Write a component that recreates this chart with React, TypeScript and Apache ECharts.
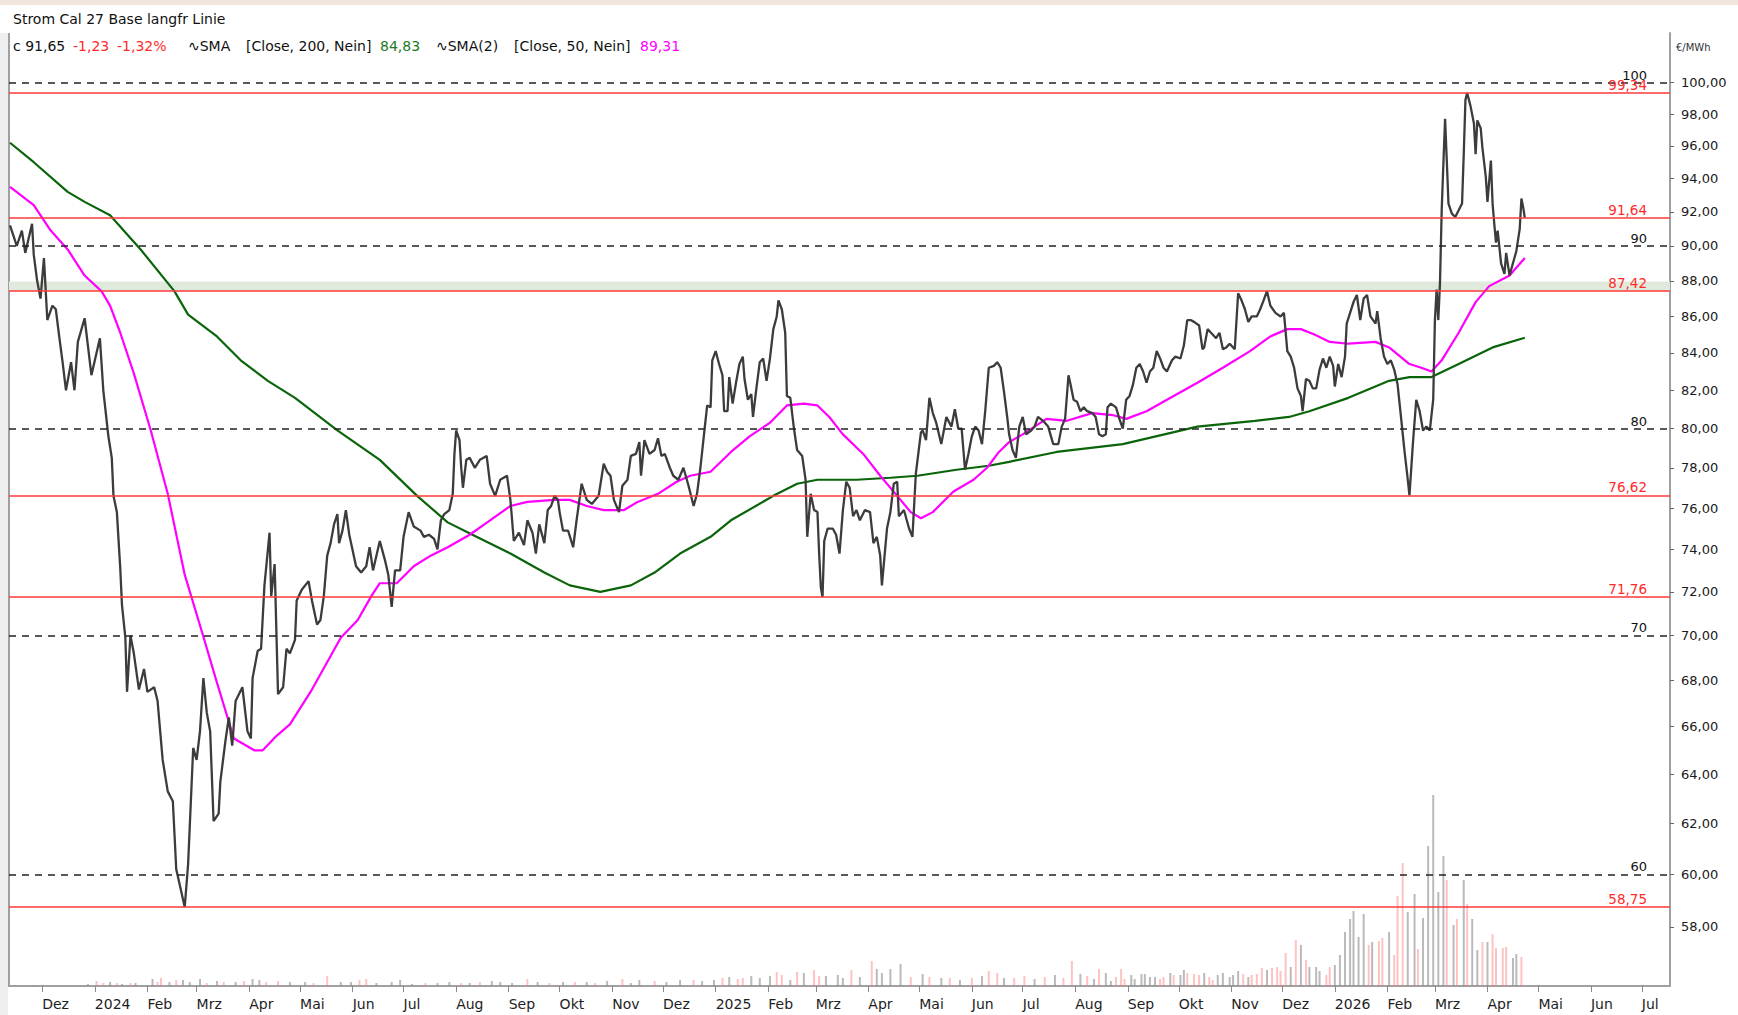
import React, { useEffect, useRef } from 'react';
import * as echarts from 'echarts';

const FONT = '"DejaVu Sans", Verdana, sans-serif';

// Close prices (€/MWh)
const closePrices: [string, number][] = [
["2023-11-12",91.2],["2023-11-14",90.6],["2023-11-16",90.0],["2023-11-19",90.9],["2023-11-21",89.6],["2023-11-25",91.3],["2023-11-26",89.5],["2023-11-28",88.0],["2023-11-30",87.0],["2023-12-02",89.3],["2023-12-04",85.8],["2023-12-07",86.6],["2023-12-09",86.4],["2023-12-11",84.9],["2023-12-13",83.5],["2023-12-15",82.0],["2023-12-18",83.5],["2023-12-20",82.0],["2023-12-22",84.6],["2023-12-26",85.9],["2023-12-30",82.8],
["2024-01-02",84.0],["2024-01-04",84.8],["2024-01-06",82.0],["2024-01-09",79.6],["2024-01-11",78.5],["2024-01-12",76.6],["2024-01-14",75.8],["2024-01-16",73.1],["2024-01-17",71.4],["2024-01-19",69.9],["2024-01-20",67.5],["2024-01-22",70.0],["2024-01-24",69.2],["2024-01-27",67.6],["2024-01-30",68.5],["2024-02-01",67.5],["2024-02-05",67.7],["2024-02-07",67.1],["2024-02-10",64.6],["2024-02-13",63.3],["2024-02-16",62.9],["2024-02-18",60.2],["2024-02-23",58.75],["2024-02-25",60.4],["2024-02-27",63.5],["2024-02-28",65.1],["2024-03-01",64.6],["2024-03-03",65.8],["2024-03-05",68.1],["2024-03-07",66.6],["2024-03-09",65.8],["2024-03-11",62.1],["2024-03-14",62.4],["2024-03-15",63.7],["2024-03-18",65.4],["2024-03-20",66.4],["2024-03-22",65.2],["2024-03-24",67.1],["2024-03-28",67.7],["2024-03-31",65.8],["2024-04-02",65.5],["2024-04-03",68.1],["2024-04-06",69.3],["2024-04-08",69.4],["2024-04-10",72.3],["2024-04-13",74.8],["2024-04-14",71.8],["2024-04-16",73.3],["2024-04-18",67.4],["2024-04-21",67.7],["2024-04-23",69.4],["2024-04-25",69.2],
["2024-04-28",69.8],["2024-04-29",71.6],["2024-05-02",72.1],["2024-05-06",72.5],["2024-05-08",71.6],["2024-05-11",70.5],["2024-05-13",70.7],["2024-05-15",71.8],["2024-05-17",73.7],["2024-05-19",74.3],["2024-05-21",75.2],["2024-05-23",75.7],["2024-05-24",74.3],["2024-05-26",74.9],["2024-05-28",75.9],["2024-05-30",74.7],["2024-06-03",73.2],["2024-06-06",72.9],["2024-06-09",73.2],["2024-06-11",74.1],["2024-06-13",73.0],["2024-06-15",73.7],["2024-06-17",74.4],["2024-06-20",73.5],["2024-06-22",72.8],["2024-06-24",71.3],["2024-06-26",73.0],["2024-06-29",73.0],["2024-07-01",74.6],["2024-07-04",75.8],["2024-07-07",75.1],["2024-07-11",74.9],["2024-07-13",74.6],["2024-07-16",74.7],["2024-07-19",74.5],["2024-07-21",74.0],["2024-07-23",75.4],["2024-07-25",75.7],["2024-07-28",75.9],["2024-07-30",76.7],["2024-07-31",78.7],["2024-08-01",79.9],["2024-08-03",79.4],["2024-08-04",78.0],["2024-08-05",77.0],["2024-08-07",78.4],["2024-08-09",78.5],["2024-08-12",78.0],["2024-08-15",78.4],["2024-08-19",78.6],["2024-08-21",77.2],["2024-08-24",76.6],["2024-08-27",77.4],["2024-08-31",77.6],["2024-09-02",76.4],["2024-09-04",74.4],["2024-09-07",74.8],["2024-09-10",74.2],["2024-09-12",75.4],["2024-09-15",74.8],["2024-09-17",73.8],["2024-09-19",75.2],["2024-09-22",74.3],["2024-09-24",75.9],["2024-09-26",76.1],["2024-09-28",76.6],["2024-09-30",76.4],["2024-10-01",75.8],["2024-10-03",74.9],["2024-10-06",74.9],["2024-10-09",74.1],["2024-10-11",75.4],["2024-10-14",77.2],["2024-10-17",76.4],["2024-10-20",76.2],["2024-10-24",76.6],["2024-10-27",78.2],["2024-10-29",77.8],["2024-10-31",77.6],["2024-11-02",76.4],["2024-11-05",75.8],["2024-11-07",77.1],["2024-11-10",77.4],["2024-11-12",78.6],["2024-11-15",78.7],["2024-11-17",79.3],["2024-11-18",77.6],["2024-11-20",79.4],["2024-11-23",78.7],["2024-11-26",78.9],["2024-11-28",79.5],["2024-11-30",78.6],["2024-12-02",78.7],["2024-12-05",78.0],["2024-12-07",77.6],["2024-12-10",77.4],["2024-12-13",78.0],["2024-12-16",77.1],["2024-12-19",76.1],["2024-12-21",76.7],["2024-12-23",78.0],["2024-12-25",79.6],["2024-12-27",81.2],["2024-12-29",81.1],["2024-12-30",83.6],
["2025-01-01",84.1],["2025-01-03",83.4],["2025-01-05",82.8],["2025-01-06",80.9],["2025-01-08",80.9],["2025-01-09",82.7],["2025-01-11",81.3],["2025-01-13",82.4],["2025-01-15",83.4],["2025-01-17",83.8],["2025-01-18",82.6],["2025-01-20",81.5],["2025-01-22",81.8],["2025-01-23",80.6],["2025-01-25",82.1],["2025-01-27",83.5],["2025-01-29",83.7],["2025-01-31",82.5],["2025-02-02",83.7],["2025-02-04",85.3],["2025-02-06",86.0],["2025-02-07",86.9],["2025-02-09",86.4],["2025-02-11",85.1],["2025-02-12",81.7],["2025-02-14",81.6],["2025-02-16",80.1],["2025-02-18",78.9],["2025-02-21",78.6],["2025-02-23",77.4],["2025-02-24",74.6],["2025-02-26",76.7],["2025-02-28",75.9],["2025-03-02",75.8],["2025-03-03",73.8],["2025-03-04",72.2],["2025-03-05",71.76],["2025-03-06",74.4],["2025-03-08",75.0],["2025-03-11",75.0],["2025-03-13",74.7],["2025-03-15",73.8],["2025-03-17",75.9],["2025-03-19",77.3],["2025-03-21",77.0],["2025-03-23",75.6],["2025-03-25",75.9],["2025-03-27",75.4],["2025-03-30",75.9],["2025-04-02",75.8],["2025-04-04",74.3],["2025-04-06",74.6],["2025-04-08",73.7],["2025-04-09",72.3],["2025-04-12",75.0],["2025-04-14",75.8],["2025-04-16",77.2],["2025-04-18",77.3],["2025-04-19",75.6],["2025-04-22",75.9],["2025-04-25",75.0],["2025-04-27",74.6],["2025-04-29",77.7],["2025-05-02",79.8],["2025-05-03",79.9],["2025-05-05",79.4],["2025-05-07",81.6],["2025-05-09",80.8],["2025-05-11",80.3],["2025-05-14",79.2],["2025-05-17",80.6],["2025-05-20",80.1],["2025-05-22",81.0],["2025-05-24",80.0],["2025-05-26",80.0],["2025-05-28",77.9],["2025-05-30",78.7],["2025-06-01",79.6],["2025-06-03",80.1],["2025-06-05",79.9],["2025-06-07",79.2],["2025-06-09",81.0],["2025-06-11",83.2],["2025-06-14",83.3],["2025-06-16",83.5],["2025-06-18",83.2],["2025-06-20",81.9],["2025-06-22",80.5],
["2025-06-23",79.7],["2025-06-25",78.9],["2025-06-27",78.5],["2025-06-29",80.1],["2025-07-01",80.6],["2025-07-03",79.7],["2025-07-06",79.9],["2025-07-08",80.1],["2025-07-10",80.6],["2025-07-13",80.4],["2025-07-16",80.1],["2025-07-19",79.2],["2025-07-22",79.2],["2025-07-24",80.1],["2025-07-26",80.5],["2025-07-28",82.8],["2025-07-29",82.4],["2025-07-31",81.5],["2025-08-02",81.4],["2025-08-04",80.9],["2025-08-06",81.1],["2025-08-08",80.9],["2025-08-11",80.8],["2025-08-13",80.6],["2025-08-15",79.7],["2025-08-17",79.6],["2025-08-19",79.7],["2025-08-20",81.1],["2025-08-22",81.3],["2025-08-25",81.1],["2025-08-27",80.5],["2025-08-29",80.0],["2025-08-31",81.5],["2025-09-02",81.7],["2025-09-04",82.3],["2025-09-06",83.2],["2025-09-08",83.4],["2025-09-10",83.0],["2025-09-12",82.4],["2025-09-14",83.0],["2025-09-16",83.2],["2025-09-18",84.1],["2025-09-20",83.7],["2025-09-22",83.2],["2025-09-24",83.0],["2025-09-27",83.6],["2025-09-29",83.8],["2025-10-02",83.7],["2025-10-04",84.4],["2025-10-06",85.8],["2025-10-08",85.8],["2025-10-10",85.7],["2025-10-13",85.5],["2025-10-15",84.2],["2025-10-16",84.3],["2025-10-18",85.3],["2025-10-20",85.1],["2025-10-23",84.8],["2025-10-25",85.1],["2025-10-27",84.2],["2025-10-29",84.3],["2025-10-31",84.5],["2025-11-03",84.2],["2025-11-05",87.3],["2025-11-07",86.9],["2025-11-09",86.4],["2025-11-11",85.7],["2025-11-13",86.0],["2025-11-16",86.0],["2025-11-18",86.4],["2025-11-20",86.9],["2025-11-22",87.42],["2025-11-24",86.6],["2025-11-27",86.2],["2025-11-30",86.0],["2025-12-02",86.2],["2025-12-04",84.1],["2025-12-06",83.8],["2025-12-08",83.2],["2025-12-10",82.1],["2025-12-12",81.7],["2025-12-13",80.9],["2025-12-15",82.6],["2025-12-17",82.5],["2025-12-19",82.1],["2025-12-21",82.1],["2025-12-23",83.1],["2025-12-25",83.7],["2025-12-27",83.2],["2025-12-29",83.8],["2025-12-31",83.3],
["2026-01-01",82.2],["2026-01-03",83.4],["2026-01-05",82.7],["2026-01-07",83.8],["2026-01-08",85.6],["2026-01-10",86.2],["2026-01-12",86.8],["2026-01-14",87.2],["2026-01-16",85.8],["2026-01-18",87.0],["2026-01-20",87.2],["2026-01-22",86.0],["2026-01-25",85.6],["2026-01-26",86.3],["2026-01-28",84.8],["2026-01-30",83.8],["2026-02-01",83.4],["2026-02-03",83.6],["2026-02-05",83.1],["2026-02-07",82.3],["2026-02-09",80.6],["2026-02-11",78.9],["2026-02-13",77.4],["2026-02-14",76.62],["2026-02-16",79.2],["2026-02-18",81.5],["2026-02-20",80.9],["2026-02-22",79.9],["2026-02-24",80.1],["2026-02-26",79.9],["2026-02-28",81.5],["2026-03-01",85.8],["2026-03-02",87.5],["2026-03-03",85.8],["2026-03-04",87.9],["2026-03-05",92.1],["2026-03-06",94.9],["2026-03-07",97.7],["2026-03-08",95.1],["2026-03-09",92.5],["2026-03-11",91.9],["2026-03-13",91.7],["2026-03-15",92.1],["2026-03-17",92.5],["2026-03-18",95.5],["2026-03-19",98.9],["2026-03-20",99.34],["2026-03-22",98.5],["2026-03-24",97.4],["2026-03-25",95.5],["2026-03-26",97.6],["2026-03-28",97.1],["2026-03-29",95.9],["2026-03-31",94.1],["2026-04-01",92.6],["2026-04-03",95.1],["2026-04-04",92.5],["2026-04-05",91.3],["2026-04-06",90.2],["2026-04-07",90.9],["2026-04-09",89.0],["2026-04-11",88.4],["2026-04-12",89.6],["2026-04-14",88.3],["2026-04-16",89.0],["2026-04-18",89.7],["2026-04-20",91.0],["2026-04-21",92.8],["2026-04-22",92.3],["2026-04-23",91.65]
];

// SMA [Close, 200]
const sma200: [string, number][] = [
["2023-11-12",96.2],["2023-11-26",95.0],["2023-12-16",93.2],["2023-12-26",92.6],["2024-01-10",91.8],["2024-01-28",89.8],["2024-02-17",87.4],["2024-02-25",86.1],["2024-03-13",84.9],["2024-03-27",83.6],["2024-04-12",82.5],["2024-04-28",81.6],["2024-05-23",79.9],["2024-06-17",78.4],["2024-07-09",76.6],["2024-07-27",75.3],["2024-08-13",74.6],["2024-09-02",73.8],["2024-09-22",72.9],["2024-10-07",72.3],["2024-10-25",72.0],["2024-11-12",72.3],["2024-11-26",72.9],["2024-12-11",73.8],["2024-12-29",74.6],["2025-01-10",75.4],["2025-02-04",76.6],["2025-02-18",77.2],["2025-03-02",77.4],["2025-03-25",77.4],["2025-04-14",77.5],["2025-04-30",77.6],["2025-05-23",77.9],["2025-06-11",78.1],["2025-06-23",78.3],["2025-07-21",78.8],["2025-08-29",79.2],["2025-10-12",80.1],["2025-11-15",80.4],["2025-12-05",80.6],["2025-12-17",80.9],["2026-01-09",81.6],["2026-02-02",82.5],["2026-02-14",82.7],["2026-02-27",82.7],["2026-03-15",83.4],["2026-04-04",84.3],["2026-04-23",84.83]
];

// SMA(2) [Close, 50]
const sma50: [string, number][] = [
["2023-11-12",93.5],["2023-11-26",92.4],["2023-12-06",90.9],["2023-12-16",89.8],["2023-12-26",88.3],["2024-01-05",87.4],["2024-01-10",86.6],["2024-01-16",85.1],["2024-01-24",82.9],["2024-02-03",79.9],["2024-02-13",76.7],["2024-02-23",72.8],["2024-03-04",70.2],["2024-03-13",67.9],["2024-03-23",65.5],["2024-04-04",65.0],["2024-04-09",65.0],["2024-04-17",65.6],["2024-04-25",66.1],["2024-05-08",67.6],["2024-05-25",69.9],["2024-06-04",70.7],["2024-06-12",71.8],["2024-06-17",72.4],["2024-06-27",72.4],["2024-07-07",73.2],["2024-07-17",73.7],["2024-07-27",74.1],["2024-08-09",74.7],["2024-08-21",75.4],["2024-09-02",76.1],["2024-09-12",76.3],["2024-09-28",76.4],["2024-10-07",76.4],["2024-10-17",76.1],["2024-10-27",75.9],["2024-11-08",75.9],["2024-11-16",76.3],["2024-11-28",76.7],["2024-12-09",77.3],["2024-12-17",77.6],["2024-12-29",77.8],["2025-01-10",78.8],["2025-01-21",79.6],["2025-02-02",80.3],["2025-02-12",81.2],["2025-02-22",81.3],["2025-03-02",81.2],["2025-03-09",80.6],["2025-03-17",79.7],["2025-03-29",78.7],["2025-04-08",77.6],["2025-04-18",76.6],["2025-04-26",75.8],["2025-05-02",75.5],["2025-05-09",75.8],["2025-05-21",76.8],["2025-06-02",77.4],["2025-06-10",78.0],["2025-06-17",78.8],["2025-06-23",79.3],["2025-07-01",79.7],["2025-07-15",80.5],["2025-07-27",80.4],["2025-08-11",80.8],["2025-08-23",80.7],["2025-08-31",80.5],["2025-09-12",80.9],["2025-09-28",81.7],["2025-10-12",82.4],["2025-10-27",83.2],["2025-11-12",84.1],["2025-11-24",84.9],["2025-12-04",85.3],["2025-12-12",85.3],["2025-12-20",85.0],["2025-12-29",84.6],["2026-01-09",84.5],["2026-01-25",84.6],["2026-02-02",84.3],["2026-02-14",83.4],["2026-02-21",83.2],["2026-02-27",83.0],["2026-03-05",83.6],["2026-03-15",85.1],["2026-03-25",86.8],["2026-04-02",87.7],["2026-04-14",88.3],["2026-04-23",89.31]
];

// Volume bars: [date, relative height, 1 = up day (grey) / 0 = down day (pink)]
const volumes: [string, number, number][] = [
["2023-11-15",1,1],["2023-11-26",1,1],["2023-12-16",1,0],["2023-12-28",2,1],["2024-01-02",5,0],["2024-01-06",3,0],["2024-01-10",4,1],["2024-01-14",3,0],["2024-01-17",2,1],["2024-01-22",3,0],["2024-01-25",3,1],["2024-02-04",7,1],["2024-02-07",4,0],["2024-02-09",8,0],["2024-02-14",4,1],["2024-02-18",6,0],["2024-02-22",6,1],["2024-02-26",4,1],["2024-03-03",7,1],["2024-03-07",3,0],["2024-03-13",5,1],["2024-03-17",4,0],["2024-03-24",4,1],["2024-03-29",5,0],["2024-04-03",7,1],["2024-04-07",6,1],["2024-04-11",4,0],["2024-04-18",5,0],["2024-04-25",4,1],["2024-05-04",4,1],["2024-05-09",3,0],["2024-05-17",10,0],["2024-05-25",4,1],["2024-05-31",4,1],["2024-06-05",6,0],["2024-06-09",7,0],["2024-06-15",3,1],["2024-06-24",4,1],["2024-06-29",6,1],["2024-07-06",2,1],["2024-07-14",3,0],["2024-07-21",3,1],["2024-07-28",4,1],["2024-08-04",3,0],["2024-08-09",3,1],["2024-08-15",4,0],["2024-08-22",5,1],["2024-08-27",4,1],["2024-09-03",3,1],["2024-09-12",7,0],["2024-09-18",4,1],["2024-09-25",3,0],["2024-10-03",4,1],["2024-10-10",4,0],["2024-10-17",4,1],["2024-10-22",3,0],["2024-10-29",5,1],["2024-11-07",7,0],["2024-11-12",3,1],["2024-11-17",6,1],["2024-11-26",5,0],["2024-12-03",4,1],["2024-12-11",6,1],["2024-12-19",6,0],["2024-12-24",5,1],["2024-12-31",6,1],
["2025-01-05",8,0],["2025-01-09",9,1],["2025-01-14",7,0],["2025-01-17",8,0],["2025-01-22",10,1],["2025-01-27",8,1],["2025-02-02",10,1],["2025-02-06",14,0],["2025-02-09",11,0],["2025-02-14",6,1],["2025-02-18",14,0],["2025-02-22",13,1],["2025-02-28",16,0],["2025-03-03",10,0],["2025-03-07",10,1],["2025-03-14",11,1],["2025-03-17",8,1],["2025-03-22",16,0],["2025-03-27",9,1],["2025-04-03",25,0],["2025-04-06",17,1],["2025-04-09",13,1],["2025-04-14",17,1],["2025-04-20",22,1],["2025-04-26",9,0],["2025-05-03",12,1],["2025-05-07",9,0],["2025-05-14",8,1],["2025-05-19",8,0],["2025-05-25",6,1],["2025-06-01",8,0],["2025-06-07",10,1],["2025-06-11",15,0],["2025-06-16",13,0],["2025-06-20",8,1],["2025-06-26",8,0],["2025-07-02",10,0],["2025-07-08",7,1],["2025-07-14",9,0],["2025-07-20",11,1],["2025-07-25",8,0],["2025-07-30",25,0],["2025-08-04",12,1],["2025-08-08",10,0],["2025-08-12",7,1],
["2025-08-15",17,0],["2025-08-19",13,1],["2025-08-22",5,1],["2025-08-25",9,0],["2025-08-28",17,0],["2025-08-30",7,0],["2025-09-03",11,1],["2025-09-05",7,1],["2025-09-09",12,1],["2025-09-11",12,1],["2025-09-14",9,1],["2025-09-17",9,1],["2025-09-20",7,0],["2025-09-22",9,0],["2025-09-26",13,1],["2025-09-28",11,0],["2025-10-02",11,1],["2025-10-04",16,1],["2025-10-06",13,0],["2025-10-10",12,0],["2025-10-13",11,0],["2025-10-16",13,1],["2025-10-19",9,0],["2025-10-21",6,0],["2025-10-24",11,1],["2025-10-27",13,1],["2025-10-31",9,1],["2025-11-02",11,1],["2025-11-05",15,1],["2025-11-08",12,0],["2025-11-11",9,1],["2025-11-13",11,0],["2025-11-16",12,0],["2025-11-19",18,0],["2025-11-22",16,1],["2025-11-25",18,0],["2025-11-28",19,0],["2025-11-30",15,0],["2025-12-03",33,0],["2025-12-06",19,1],["2025-12-09",46,0],["2025-12-12",41,1],["2025-12-15",26,0],["2025-12-17",19,1],["2025-12-21",19,1],["2025-12-23",15,1],["2025-12-27",11,0],["2025-12-29",19,0],
["2026-01-01",21,1],["2026-01-04",31,1],["2026-01-07",54,1],["2026-01-10",67,1],["2026-01-12",75,1],["2026-01-15",49,1],["2026-01-18",72,1],["2026-01-21",41,0],["2026-01-23",44,1],["2026-01-27",45,0],["2026-01-29",48,0],["2026-02-02",54,1],["2026-02-05",31,0],["2026-02-07",90,0],["2026-02-10",123,0],["2026-02-13",74,1],["2026-02-17",92,1],["2026-02-19",37,0],["2026-02-22",68,1],["2026-02-25",140,1],["2026-02-28",191,1],["2026-03-03",94,1],["2026-03-06",130,1],["2026-03-08",106,0],["2026-03-12",61,1],["2026-03-14",67,0],["2026-03-18",106,1],["2026-03-20",82,0],["2026-03-23",67,1],["2026-03-26",36,1],["2026-03-29",44,0],["2026-04-01",44,1],["2026-04-04",52,0],["2026-04-06",38,0],["2026-04-10",38,0],["2026-04-12",39,0],["2026-04-16",28,1],["2026-04-18",32,1],["2026-04-21",29,0]
];

const yTicks = [58, 60, 62, 64, 66, 68, 70, 72, 74, 76, 78, 80, 82, 84, 86, 88, 90, 92, 94, 96, 98, 100];
const monthLabels = ['', 'Feb', 'Mrz', 'Apr', 'Mai', 'Jun', 'Jul', 'Aug', 'Sep', 'Okt', 'Nov', 'Dez'];
const redLevels = [99.34, 91.64, 87.42, 76.62, 71.76, 58.75];
const dashedLevels = [100, 90, 80, 70, 60];
const bandRange = [87.42, 87.96];
const yRange = [55.83, 103.26];
const xRange = ['2023-11-12', '2026-07-17'];

const titleText = 'Strom Cal 27 Base langfr Linie';
const headerParts: [string, number, string][] = [
  ['c 91,65', 13, '#111111'],
  ['-1,23', 73, '#ff2a2a'],
  ['-1,32%', 117, '#ff2a2a'],
  ['\u223FSMA', 188, '#111111'],
  ['[Close, 200, Nein]', 246, '#111111'],
  ['84,83', 380, '#1d7a1d'],
  ['\u223FSMA(2)', 436, '#111111'],
  ['[Close, 50, Nein]', 514, '#111111'],
  ['89,31', 640, '#ff00ff'],
];

const lg = (v: number) => Math.log10(v);
const fmt = (v: number) => (Math.round(v * 100) / 100).toFixed(2).replace('.', ',');
const DAY = 86400000;

export default function App() {
  const ref = useRef<HTMLDivElement>(null);
  useEffect(() => {
    if (!ref.current) return;
    const chart = echarts.init(ref.current, null, { renderer: 'svg' });
    const priceData = closePrices.map(([d, v]) => [d, lg(v)]);
    const tickLogs = yTicks.map(lg);

    const markData: any[] = [
      ...dashedLevels.map((v) => ({
        yAxis: lg(v),
        lineStyle: { color: '#222222', width: 1.5, type: [7, 6] },
        label: { show: true, formatter: String(v), position: 'insideEndTop', distance: [23, 1], color: '#111111', fontSize: 13, fontFamily: FONT },
      })),
      ...redLevels.map((v) => ({
        yAxis: lg(v),
        lineStyle: { color: '#ff3a3a', width: 1.5, type: 'solid' },
        label: { show: true, formatter: fmt(v), position: 'insideEndTop', distance: [23, 1], color: '#ff2a2a', fontSize: 13.5, fontFamily: FONT },
      })),
    ];

    const graphics: any[] = [
      { type: 'rect', shape: { x: 0, y: 0, width: 1738, height: 5 }, style: { fill: '#f0e4dc' }, silent: true },
      { type: 'rect', shape: { x: 0, y: 33, width: 8, height: 982 }, style: { fill: '#efefef' }, silent: true },
      { type: 'line', shape: { x1: 9, y1: 33, x2: 9, y2: 987 }, style: { stroke: '#a0a0a0', lineWidth: 2 }, silent: true },
      { type: 'text', x: 13, y: 19, style: { text: titleText, fontSize: 14, fontFamily: FONT, fill: '#111111', verticalAlign: 'middle' }, silent: true },
      { type: 'text', x: 1676, y: 47, style: { text: '€/MWh', fontSize: 10, fontFamily: FONT, fill: '#333333', verticalAlign: 'middle' }, silent: true },
      ...headerParts.map(([t, x, c]) => ({
        type: 'text', x, y: 46, silent: true,
        style: { text: t, fontSize: 14, fontFamily: FONT, fill: c, verticalAlign: 'middle' },
      })),
    ];

    chart.setOption({
      animation: false,
      backgroundColor: '#ffffff',
      textStyle: { fontFamily: FONT },
      grid: { left: 9, right: 68, top: 33, bottom: 29, containLabel: false },
      xAxis: {
        type: 'time',
        min: xRange[0],
        max: xRange[1],
        splitNumber: 40,
        minInterval: 28 * DAY,
        maxInterval: 31 * DAY,
        axisLine: { show: true, lineStyle: { color: '#a0a0a0', width: 2 } },
        axisTick: { show: true, length: 6, lineStyle: { color: '#8a8a8a' } },
        splitLine: { show: false },
        axisLabel: {
          showMinLabel: false,
          showMaxLabel: false,
          hideOverlap: false,
          align: 'left',
          margin: 11,
          fontSize: 14,
          fontFamily: FONT,
          color: '#1e1e1e',
          formatter: (val: number) => {
            const d = new Date(val);
            if (d.getDate() !== 1) return '';
            const m = d.getMonth();
            return m === 0 ? String(d.getFullYear()) : monthLabels[m];
          },
        },
      },
      yAxis: [
        {
          type: 'value',
          position: 'right',
          min: lg(yRange[0]),
          max: lg(yRange[1]),
          axisLine: { show: true, lineStyle: { color: '#a0a0a0', width: 2 } },
          axisTick: { show: true, length: 4, customValues: tickLogs, lineStyle: { color: '#666666' } },
          splitLine: { show: false },
          axisLabel: {
            customValues: tickLogs,
            margin: 11,
            fontSize: 13,
            fontFamily: FONT,
            color: '#1a1a1a',
            formatter: (v: number) => fmt(Math.pow(10, v)),
          },
        },
        { type: 'value', min: 0, max: 953, show: false },
      ],
      series: [
        {
          name: 'Volumen',
          type: 'bar',
          xAxisIndex: 0,
          yAxisIndex: 1,
          barWidth: 2,
          silent: true,
          z: 0,
          data: volumes.map(([d, h, up]) => ({
            value: [d, h],
            itemStyle: { color: up ? 'rgba(140,140,140,0.6)' : 'rgba(255,120,120,0.45)' },
          })),
        },
        {
          name: 'Marken',
          type: 'line',
          data: priceData,
          symbol: 'none',
          silent: true,
          z: 1,
          lineStyle: { opacity: 0 },
          markArea: {
            silent: true,
            itemStyle: { color: '#dfe9dc' },
            data: [[{ yAxis: lg(bandRange[0]) }, { yAxis: lg(bandRange[1]) }]],
          },
          markLine: { silent: true, symbol: 'none', animation: false, precision: 10, data: markData },
        },
        {
          name: 'SMA 200',
          type: 'line',
          data: sma200.map(([d, v]) => [d, lg(v)]),
          symbol: 'none',
          z: 3,
          lineStyle: { color: '#0a640a', width: 2.2 },
        },
        {
          name: 'SMA 50',
          type: 'line',
          data: sma50.map(([d, v]) => [d, lg(v)]),
          symbol: 'none',
          z: 3,
          lineStyle: { color: '#ff00ff', width: 2.2 },
        },
        {
          name: 'Close',
          type: 'line',
          data: priceData,
          symbol: 'none',
          z: 4,
          lineStyle: { color: '#3c3c3c', width: 2.3 },
        },
      ],
      graphic: graphics,
    });
    return () => chart.dispose();
  }, []);
  return (
    <div
      ref={ref}
      style={{ position: 'fixed', left: 0, top: 0, width: 1738, height: 1015, background: '#ffffff' }}
    />
  );
}
